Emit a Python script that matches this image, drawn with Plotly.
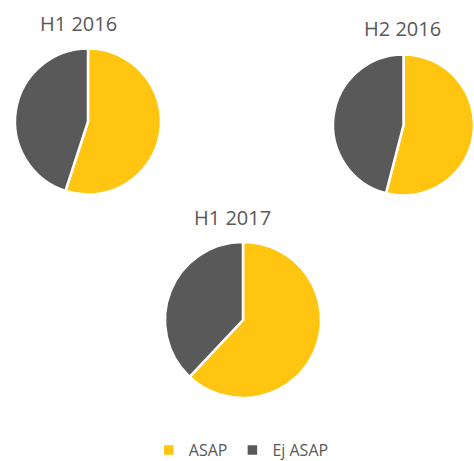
import plotly.graph_objects as go

labels = ["ASAP", "Ej ASAP"]
periods = ["H1 2016", "H2 2016", "H1 2017"]
h1_2016 = [55, 45]
h2_2016 = [54, 46]
h1_2017 = [62, 38]
colors = ["#FFC510", "#595959"]

W, H = 474, 461

def dom(x0, x1, ytop, ybot):
    return dict(x=[x0 / W, min(x1 / W, 1)], y=[1 - ybot / H, 1 - ytop / H])

domains = [dom(15, 161, 48.5, 194.5), dom(333, 474, 53, 197), dom(165, 321, 242, 398)]
series = [h1_2016, h2_2016, h1_2017]

fig = go.Figure()
for i, (vals, d) in enumerate(zip(series, domains)):
    fig.add_trace(go.Pie(
        labels=labels, values=vals, domain=d, sort=False,
        direction="clockwise", rotation=0,
        marker=dict(colors=colors, line=dict(color="white", width=2.5)),
        textinfo="none", hoverinfo="label+value",
        showlegend=(i == 0), name=periods[i],
    ))

title_pos = [(78, 24), (402, 28), (232, 217)]
for t, (x, y) in zip(periods, title_pos):
    fig.add_annotation(text=t, x=x / W, y=1 - y / H, xref="paper", yref="paper",
                       showarrow=False, xanchor="center", yanchor="middle",
                       font=dict(family="Open Sans", size=20, color="#595959"))

fig.update_layout(
    width=W, height=H, margin=dict(l=0, r=0, t=0, b=0, autoexpand=False),
    paper_bgcolor="white", plot_bgcolor="white",
    legend=dict(orientation="h", x=0.509, xanchor="center", y=1 - 450 / H, yanchor="middle",
                font=dict(family="Open Sans", size=16, color="#595959"),
                itemwidth=30, bgcolor="rgba(0,0,0,0)"),
)
fig.write_html("out.html", config={"displayModeBar": False},
               post_script="document.body.style.margin='0';")
